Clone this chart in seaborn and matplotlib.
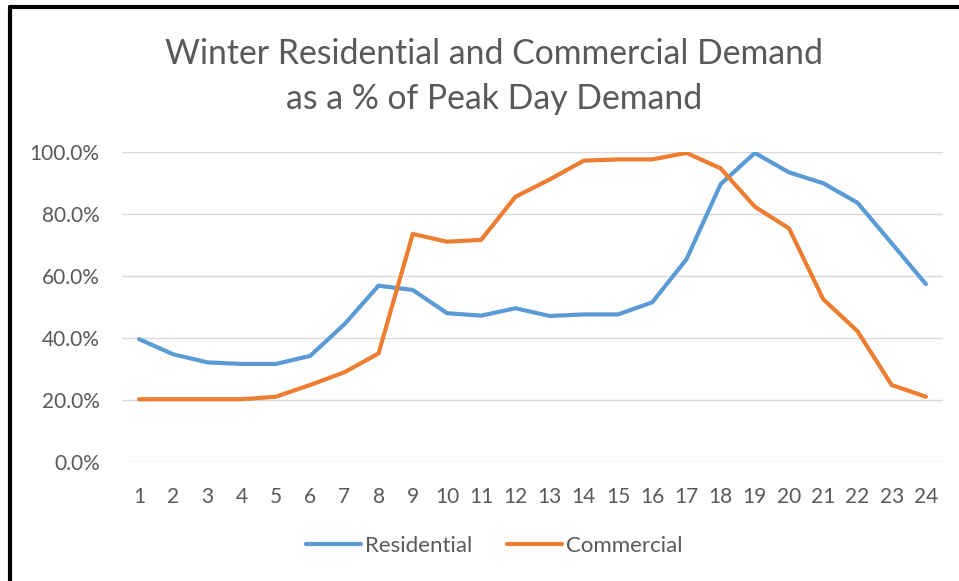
import matplotlib
matplotlib.use("Agg")
import matplotlib.pyplot as plt
from matplotlib.lines import Line2D
from matplotlib.ticker import PercentFormatter
import seaborn as sns
import pandas as pd

hours = list(range(1, 25))
residential = [39.6, 34.7, 32.1, 31.6, 31.6, 34.2, 44.4, 56.9, 55.5, 48.0, 47.2, 49.6,
               47.1, 47.6, 47.6, 51.5, 65.4, 89.7, 99.8, 93.5, 90.0, 83.7, 70.6, 57.4]
commercial = [20.2, 20.2, 20.2, 20.2, 21.0, 24.8, 28.9, 35.0, 73.6, 71.1, 71.7, 85.6,
              91.2, 97.3, 97.7, 97.7, 99.8, 94.8, 82.4, 75.4, 52.5, 42.2, 24.8, 21.0]
series_names = ["Residential", "Commercial"]
title_text = "Winter Residential and Commercial Demand\nas a % of Peak Day Demand"

df = pd.DataFrame({
    "hour": hours * 2,
    "value": [v / 100 for v in residential] + [v / 100 for v in commercial],
    "series": [series_names[0]] * 24 + [series_names[1]] * 24,
})

sns.set_theme(style="white")
plt.rcParams["font.family"] = ["Lato", "DejaVu Sans"]

fig = plt.figure(figsize=(9.59, 5.81), dpi=100)
ax = fig.add_axes([0.1272, 0.2053, 0.8561, 0.5326])

palette = {"Residential": "#5B9BD5", "Commercial": "#ED7D31"}
sns.lineplot(data=df, x="hour", y="value", hue="series", palette=palette,
             linewidth=3.0, ax=ax, legend=False)

ax.set_xlim(0.5, 24.5)
ax.set_ylim(0, 1.0)
ax.set_xticks(hours)
ax.set_yticks([0, 0.2, 0.4, 0.6, 0.8, 1.0])
ax.yaxis.set_major_formatter(PercentFormatter(1.0, decimals=1))
ax.grid(axis="y", color="#D9D9D9", linewidth=1.0)
ax.set_axisbelow(True)
for s in ax.spines.values():
    s.set_visible(False)
ax.tick_params(axis="both", length=0, labelsize=15, labelcolor="#595959")
ax.tick_params(axis="x", pad=18)
ax.tick_params(axis="y", pad=16)
ax.set_xlabel("")
ax.set_ylabel("")

fig.text(0.515, 0.868, title_text, ha="center", va="center", fontsize=24.3,
         color="#595959", fontweight="normal", linespacing=1.5)

handles = [Line2D([0], [0], color=palette[n], linewidth=3.0) for n in series_names]
fig.legend(handles, series_names, loc="center", bbox_to_anchor=(0.5156, 0.06),
           ncol=2, frameon=False, fontsize=16, labelcolor="#595959",
           handlelength=2.45, handletextpad=0.2, columnspacing=1.55)

# frame lines at left and top (as in the screenshot)
fig.add_artist(Line2D([10 / 959, 10 / 959], [0, 1 - 7 / 581], color="black",
                      linewidth=3.0, transform=fig.transFigure))
fig.add_artist(Line2D([10 / 959, 1], [1 - 7 / 581, 1 - 7 / 581], color="black",
                      linewidth=3.0, transform=fig.transFigure))

fig.savefig("out.png", dpi=100)
